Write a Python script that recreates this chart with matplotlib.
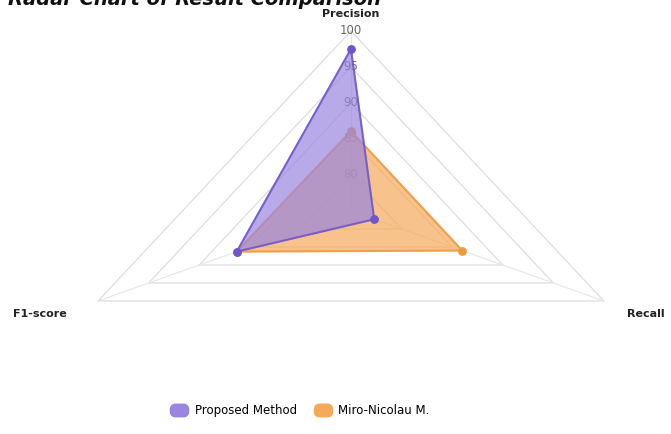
import numpy as np
import matplotlib
matplotlib.use('Agg')
import matplotlib.pyplot as plt
from matplotlib.lines import Line2D
from matplotlib.path import Path

plt.rcParams['font.family'] = ['DejaVu Sans']

metrics = ['Precision', 'Recall', 'F1-score']
proposed = [97.5, 77.3, 86.3]
miro = [86.1, 86.0, 86.3]
series_names = ['Proposed Method', 'Miro-Nicolau M.']
tick_values = [80, 85, 90, 95, 100]
r_min, r_max = 75, 100

colors = ['#9a85e0', '#f5a95a']
edges = ['#6f55c8', '#f09a40']

# axes run clockwise from the top
angles = np.pi / 2 - np.arange(len(metrics)) * 2 * np.pi / len(metrics)


def to_xy(values):
    frac = (np.asarray(values, dtype=float) - r_min) / (r_max - r_min)
    return frac * np.cos(angles), frac * np.sin(angles)


def rounded_box(w=1.45, h=1.0, r=0.38, n=8):
    # rounded rectangle outline used as the legend marker
    pts = []
    corners = [(w / 2 - r, h / 2 - r, 0), (-w / 2 + r, h / 2 - r, 90),
               (-w / 2 + r, -h / 2 + r, 180), (w / 2 - r, -h / 2 + r, 270)]
    for cx, cy, a0 in corners:
        for a in np.radians(np.linspace(a0, a0 + 90, n)):
            pts.append((cx + r * np.cos(a), cy + r * np.sin(a)))
    pts.append(pts[0])
    return Path(pts, closed=True)


fig = plt.figure(figsize=(6.71, 4.34), dpi=100)
ax = fig.add_axes([0, 0, 1, 1])
ax.set_xlim(-1.202, 1.096)
ax.set_ylim(-1.239, 1.172)
ax.axis('off')

# grid triangles and spokes
for t in tick_values:
    gx, gy = to_xy([t] * len(metrics))
    ax.plot(np.append(gx, gx[0]), np.append(gy, gy[0]), color='#dedede', lw=0.9, zorder=1)
ox, oy = to_xy([r_max] * len(metrics))
for x, y in zip(ox, oy):
    ax.plot([0, x], [0, y], color='#e6e6e6', lw=0.8, zorder=1)

# tick labels along the precision axis
for t in tick_values:
    frac = (t - r_min) / (r_max - r_min)
    ax.text(0, frac, str(t), ha='center', va='center', fontsize=8.5, color='#666666', zorder=2)

# axis labels
ax.text(0, 1.093, metrics[0], ha='center', va='center', fontsize=8, fontweight='bold', color='#222222')
ax.text(ox[1] + 0.145, oy[1] - 0.075, metrics[1], ha='center', va='center', fontsize=8,
        fontweight='bold', color='#222222')
ax.text(ox[2] - 0.2, oy[2] - 0.075, metrics[2], ha='center', va='center', fontsize=8,
        fontweight='bold', color='#222222')

# first series ends up on top
for vals, c, e in reversed(list(zip([proposed, miro], colors, edges))):
    x, y = to_xy(vals)
    ax.fill(x, y, color=c, alpha=0.7, zorder=3)
    ax.plot(np.append(x, x[0]), np.append(y, y[0]), color=e, lw=1.5, alpha=0.85, zorder=3)
    ax.scatter(x, y, s=28, color=e, zorder=3)

box = rounded_box()
handles = [Line2D([], [], marker=box, ls='', markersize=13, markerfacecolor=c, markeredgecolor=c)
           for c in colors]
fig.legend(handles, series_names, loc='center', bbox_to_anchor=(0.445, 0.053), ncol=2,
           frameon=False, fontsize=8.5, handletextpad=0.3, columnspacing=1.2)

fig.text(0.012, 0.9875, 'Radar Chart of Result Comparison', ha='left', va='baseline',
         fontsize=14, fontweight='bold', fontstyle='italic', color='#111111')

fig.savefig('out.png', dpi=100)
